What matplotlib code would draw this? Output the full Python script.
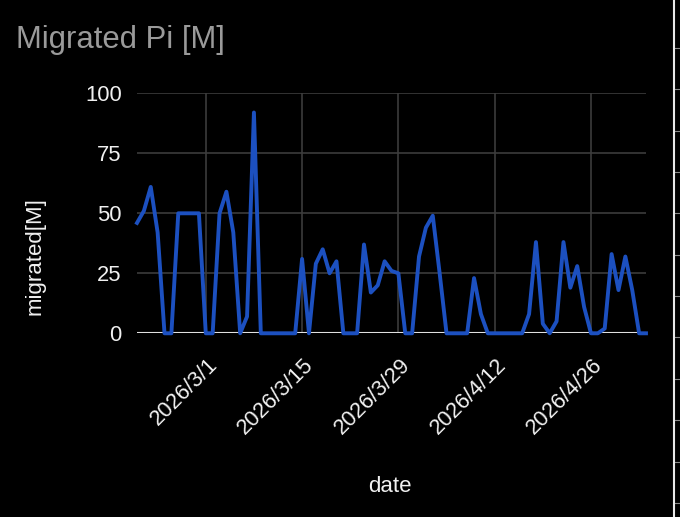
import numpy as np
import pandas as pd
import matplotlib
matplotlib.use("Agg")
import matplotlib.pyplot as plt
from matplotlib.transforms import ScaledTranslation

plt.rcParams['font.family'] = ['Liberation Sans', 'DejaVu Sans']

# daily values, 2026/2/19 .. 2026/5/4
dates = pd.date_range('2026-02-19', periods=75, freq='D')
migrated = [46, 51, 61, 42, 0, 0, 50, 50, 50, 50,
            0, 0, 50, 59, 42, 0, 7, 92, 0, 0,
            0, 0, 0, 0, 31, 0, 29, 35, 25, 30,
            0, 0, 0, 37, 17, 20, 30, 26, 25, 0,
            0, 32, 44, 49, 25, 0, 0, 0, 0, 23,
            8, 0, 0, 0, 0, 0, 0, 8, 38, 4,
            0, 5, 38, 19, 28, 11, 0, 0, 2, 33,
            18, 32, 18, 0, 0]
tick_dates = pd.date_range('2026-03-01', periods=5, freq='14D')
tick_labels = [f"{d.year}/{d.month}/{d.day}" for d in tick_dates]
y_ticks = [0, 25, 50, 75, 100]

fig = plt.figure(figsize=(6.8, 5.17), dpi=100, facecolor='black')
ax = fig.add_axes([137/680, 1 - 333.3/517, (646 - 137)/680, (333.3 - 93.3)/517])
ax.set_facecolor('black')

ax.plot(dates, migrated, color='#1c50c0', lw=2.8, clip_on=False, zorder=3)

ax.set_xlim(dates[0], dates[-1])
ax.set_ylim(0, 100)
ax.set_yticks(y_ticks)
ax.set_xticks(tick_dates)
ax.set_xticklabels(tick_labels, rotation=45, ha='right')

ax.grid(True, color='#3c3c3c', lw=1.2)
ax.axhline(0, color='#e0e0e0', lw=1.5, zorder=2)
for s in ax.spines.values():
    s.set_visible(False)

ax.tick_params(axis='both', length=0, colors='#f0f0f0', labelsize=15.8)
ax.tick_params(axis='y', pad=11)
ax.tick_params(axis='x', pad=15)
off = ScaledTranslation(0.16, 0, fig.dpi_scale_trans)
for lab in ax.get_xticklabels():
    lab.set_transform(lab.get_transform() + off)

fig.text(16/680, 1 - 40/517, 'Migrated Pi [M]', color='#9a9a9a', fontsize=22.3,
         ha='left', va='center')
fig.text(35/680, 1 - 256/517, 'migrated[M]', color='#f0f0f0', fontsize=16,
         rotation=90, ha='center', va='center')
fig.text(390/680, 1 - 486/517, 'date', color='#f0f0f0', fontsize=16,
         ha='center', va='center')

# edge of the neighbouring panel on the right
ax2 = fig.add_axes([674/680, 0, 0.05, 1])
ax2.set_facecolor('black')
ax2.set_ylim(11.34, -1.16)
ax2.set_yticks(np.arange(12))
ax2.set_xticks([])
ax2.set_yticklabels([])
for k, s in ax2.spines.items():
    s.set_visible(k == 'left')
ax2.spines['left'].set_color('#e8e8e8')
ax2.spines['left'].set_linewidth(1.5)
ax2.tick_params(axis='y', direction='in', length=4, color='#888888')

fig.savefig('out.png', dpi=100, facecolor='black')
